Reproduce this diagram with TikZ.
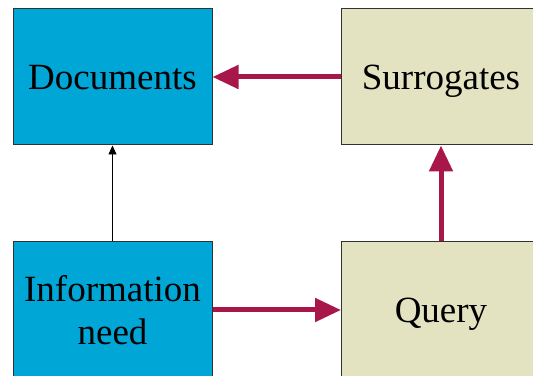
\documentclass[tikz,border=0pt]{standalone}
\usepackage{fontspec}
\setmainfont{Liberation Serif}
\usetikzlibrary{arrows.meta}
\definecolor{boxblue}{RGB}{0,166,214}
\definecolor{boxbeige}{RGB}{227,227,193}
\definecolor{flowred}{RGB}{168,23,74}
\definecolor{edgegray}{RGB}{50,50,50}
\tikzset{
  block/.style={draw=edgegray, line width=1pt, minimum width=199pt, minimum height=136pt,
    inner sep=0pt, align=center, font=\fontsize{37}{43}\selectfont},
  oneline/.style={text height=25pt, text depth=0pt},
  blueblock/.style={block, fill=boxblue},
  beigeblock/.style={block, fill=boxbeige},
  flow/.style={draw=flowred, line width=5pt, -{Triangle[length=26pt,width=23pt]}, fill=flowred},
  thin/.style={draw=black, line width=0.8pt, -{Triangle[length=9pt,width=8pt]}}
}
\begin{document}
\begin{tikzpicture}[x=1pt,y=1pt]
  \useasboundingbox (0,0) rectangle (533,375);
  \clip (0,0) rectangle (533,375);
  \node[blueblock, oneline]  (docs)  at (112.5,298) {Documents};
  \node[beigeblock, oneline] (surr)  at (441,298)   {Surrogates};
  \node[blueblock, minimum height=138pt]  (need)  at (112.5,64.5)  {Information\\need};
  \node[beigeblock, oneline, minimum height=138pt] (query) at (441,64.5) {Query};
  \draw[flow] (surr.west) -- (docs.east);
  \draw[flow] (query.north) -- (surr.south);
  \draw[flow] (need.east |- 0,65) -- (query.west |- 0,65);
  \draw[thin] (need.north) -- (docs.south);
\end{tikzpicture}
\end{document}
